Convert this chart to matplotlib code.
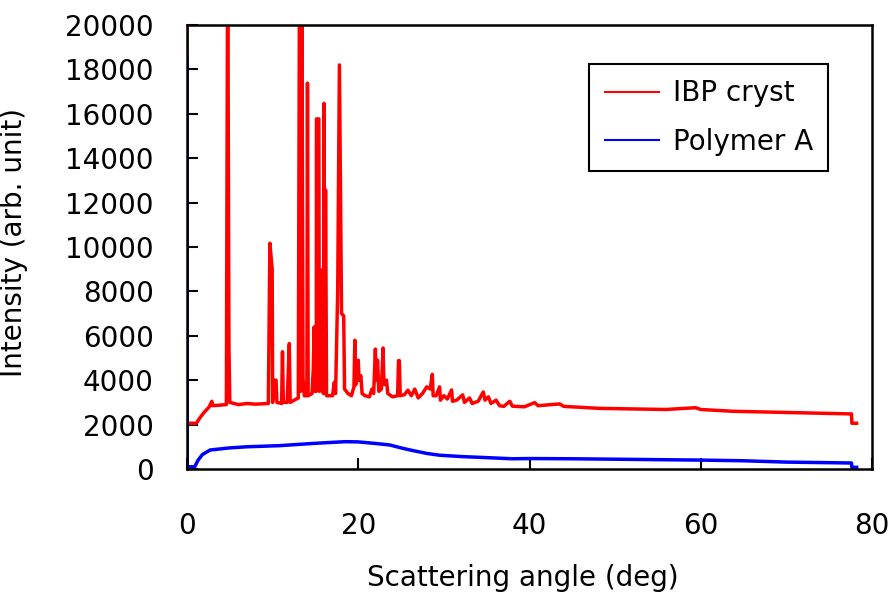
import matplotlib
matplotlib.use("Agg")
import matplotlib.pyplot as plt

plt.rcParams['font.family'] = ['DejaVu Sans']

# IBP crystal pattern (peaks above 20000 are clipped)
ibp_angle = [0, 0.02, 1.1, 1.5, 2.0, 2.6, 2.9, 3.0, 4.6, 4.75, 4.9, 5.0, 6.0, 7.0, 8.0,
             9.5, 9.68, 9.95, 10.0, 10.2, 10.4, 10.5, 11.05, 11.15, 11.25, 11.7, 11.85,
             11.95, 12.05, 13.0, 13.15, 13.3, 13.4, 13.55, 13.7, 14.0, 14.07, 14.15,
             14.6, 14.75, 14.85, 14.95, 15.1, 15.12, 15.4, 15.45, 15.6, 15.7, 15.8,
             15.95, 16.0, 16.1, 16.18, 16.3, 17.0, 17.2, 17.35, 17.6, 17.8, 18.05,
             18.3, 18.4, 18.8, 19.2, 19.5, 19.6, 19.7, 19.85, 20.0, 20.1, 20.3, 20.45,
             20.8, 21.3, 21.6, 21.8, 22.0, 22.1, 22.25, 22.4, 22.7, 22.9, 23.0, 23.3,
             23.45, 24.0, 24.6, 24.7, 24.8, 24.9, 25.4, 25.8, 26.2, 26.6, 27.0, 27.5,
             28.0, 28.4, 28.65, 28.75, 29.1, 29.5, 29.6, 30.0, 30.4, 30.9, 31.0, 31.5,
             32.2, 32.4, 33.0, 33.3, 34.0, 34.6, 34.8, 35.2, 35.5, 36.1, 36.5, 37.0,
             37.7, 38.0, 39.4, 40.6, 41.0, 43.5, 44.0, 48.2, 55.9, 59.4, 60.0, 63.7,
             71.5, 77.6, 77.65, 78.2]
ibp_int = [19800, 2060, 2060, 2300, 2550, 2800, 3050, 2850, 2900, 24000, 5500, 3000, 2900,
           2950, 2920, 2950, 10170, 9000, 3000, 4000, 4000, 3000, 2950, 5280, 3000, 3000,
           4600, 5650, 3000, 3200, 24000, 3500, 24000, 4100, 3300, 3300, 17380, 3300,
           3400, 4500, 6400, 3500, 3500, 15770, 15770, 3500, 3600, 8960, 3500, 3400,
           16470, 3600, 12570, 3300, 3300, 3900, 3400, 8000, 18200, 7000, 6900, 3600,
           3400, 3300, 3700, 5800, 3800, 4000, 4900, 4000, 4200, 3400, 3300, 3250, 3600,
           3400, 5400, 4000, 4900, 3500, 3600, 5450, 3800, 4000, 3400, 3250, 3300, 4880,
           4880, 3300, 3350, 3550, 3300, 3600, 3200, 3400, 3700, 3600, 4260, 3300, 3300,
           3700, 3100, 3300, 3150, 3560, 3050, 3100, 3340, 3000, 3200, 2950, 3050, 3470,
           3100, 3250, 2950, 3100, 2850, 2820, 3050, 2830, 2800, 2990, 2850, 2930, 2820,
           2730, 2680, 2760, 2680, 2600, 2530, 2480, 2060, 2060]

# Polymer A pattern
poly_angle = [0, 0.03, 0.9, 1.3, 1.8, 2.7, 5.0, 7.0, 10.8, 14.7, 17.0, 18.5, 20.0, 22.0,
              23.7, 25.0, 26.0, 28.0, 29.5, 32.0, 34.2, 38.0, 40.0, 45.0, 50.0, 55.0,
              60.0, 65.0, 70.0, 77.6, 77.65, 78.2]
poly_int = [18600, 100, 100, 400, 650, 855, 950, 1000, 1050, 1150, 1200, 1230, 1220, 1150,
            1080, 950, 860, 700, 620, 560, 525, 460, 470, 460, 440, 420, 400, 370, 310,
            270, 75, 75]

fig = plt.figure(figsize=(8.93, 5.92), dpi=100)
ax = fig.add_axes([0.2094, 0.2078, 0.7671, 0.75])

ax.plot(ibp_angle, ibp_int, color='#ff0000', lw=2.5, label='IBP cryst')
ax.plot(poly_angle, poly_int, color='#0000ff', lw=2.5, label='Polymer A')

ax.set_xlim(0, 80)
ax.set_ylim(0, 20000)
ax.set_xticks(range(0, 81, 20))
ax.set_yticks(range(0, 20001, 2000))
ax.tick_params(axis='x', direction='in', length=8, width=1.5, pad=31, labelsize=20)
ax.tick_params(axis='y', direction='in', length=8, width=1.5, pad=24, labelsize=20)
for s in ax.spines.values():
    s.set_linewidth(1.8)

ax.set_xlabel('Scattering angle (deg)', fontsize=20)
ax.set_ylabel('Intensity (arb. unit)', fontsize=20)
ax.xaxis.set_label_coords(0.49, -0.215)
ax.yaxis.set_label_coords(-0.232, 0.51)

leg = ax.legend(loc='upper right', bbox_to_anchor=(0.936, 0.912), borderaxespad=0,
                fontsize=20, fancybox=False, edgecolor='black', framealpha=1,
                handlelength=1.95, handletextpad=0.5, borderpad=0.55,
                labelspacing=0.75)
leg.get_frame().set_linewidth(1.5)
for h in leg.get_lines():
    h.set_linewidth(1.5)

fig.savefig('out.png', dpi=100)
